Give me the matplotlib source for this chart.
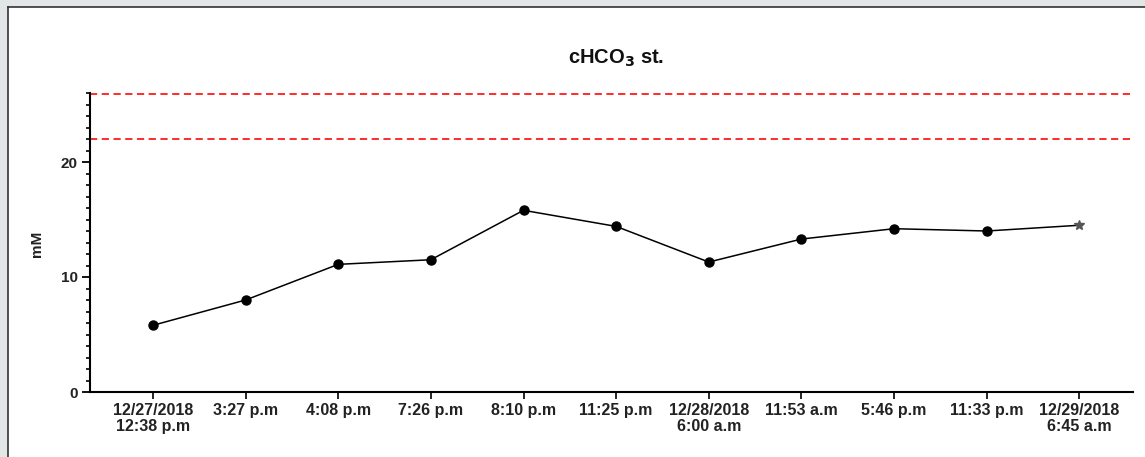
import matplotlib.pyplot as plt
from matplotlib.patches import Rectangle
from matplotlib.ticker import MultipleLocator

plt.rcParams['font.family'] = ['Liberation Sans', 'DejaVu Sans']

# data
labels = ["12/27/2018\n12:38 p.m", "3:27 p.m", "4:08 p.m", "7:26 p.m", "8:10 p.m",
          "11:25 p.m", "12/28/2018\n6:00 a.m", "11:53 a.m", "5:46 p.m", "11:33 p.m",
          "12/29/2018\n6:45 a.m"]
values = [5.8, 8.0, 11.1, 11.5, 15.8, 14.4, 11.3, 13.3, 14.2, 14.0, 14.5]
ref_lines = [22, 25.9]

fig = plt.figure(figsize=(11.45, 4.57), dpi=100)
fig.patch.set_facecolor('#e3e6e6')
# white panel with dark top/left edge
fig.add_artist(Rectangle((8/1145, 0), 1.0, 1 - 7/457, transform=fig.transFigure,
                         facecolor='white', edgecolor='none', zorder=-10))
fig.add_artist(plt.Line2D([8/1145, 1], [1 - 7/457, 1 - 7/457], transform=fig.transFigure,
                          color='#333333', lw=1.2, zorder=-5))
fig.add_artist(plt.Line2D([8/1145, 8/1145], [0, 1 - 7/457], transform=fig.transFigure,
                          color='#333333', lw=1.2, zorder=-5))

ax = fig.add_axes([90/1145, 1 - 392/457, (1133 - 90)/1145, (392 - 93)/457])
ax.set_facecolor('none')

x = list(range(len(values)))
for r in ref_lines:
    ax.axhline(r, color='#ff1a1a', lw=1.3, ls=(0, (4, 2.5)), zorder=1, clip_on=False)

ax.plot(x[:-1], values[:-1], color='black', lw=1.1, marker='o', markersize=6.5, zorder=3)
ax.plot(x[-2:], values[-2:], color='black', lw=1.1, zorder=2)
ax.plot(x[-1], values[-1], color='#555555', marker='*', markersize=7, ls='none', zorder=3)

ax.set_xlim(-0.68, 10.58)
ax.set_ylim(0, 26)
ax.set_xticks(x)
ax.set_xticklabels(labels, fontsize=11.5, fontweight='bold', color='#222222', linespacing=1.05)
ax.yaxis.set_major_locator(MultipleLocator(10))
ax.yaxis.set_minor_locator(MultipleLocator(1))
ax.tick_params(axis='y', which='major', length=6, width=1.3, labelsize=11, labelcolor='#222222', pad=3)
ax.tick_params(axis='y', which='minor', length=3, width=1.2)
ax.tick_params(axis='x', length=5, width=1.2, pad=3)
for lab in ax.get_yticklabels():
    lab.set_fontweight('bold')

for s in ['top', 'right']:
    ax.spines[s].set_visible(False)
for s in ['left', 'bottom']:
    ax.spines[s].set_linewidth(1.5)

ax.set_ylabel('mM', fontsize=11, fontweight='bold', color='#222222')
ax.yaxis.set_label_coords(-0.044, 0.495)
fig.text(616/1145, 1 - 58/457, 'cHCO$_\\mathbf{3}$ st.', ha='center', va='center',
         fontsize=14.5, fontweight='bold', color='#111111')

fig.savefig('out.png', dpi=100, facecolor=fig.get_facecolor())
